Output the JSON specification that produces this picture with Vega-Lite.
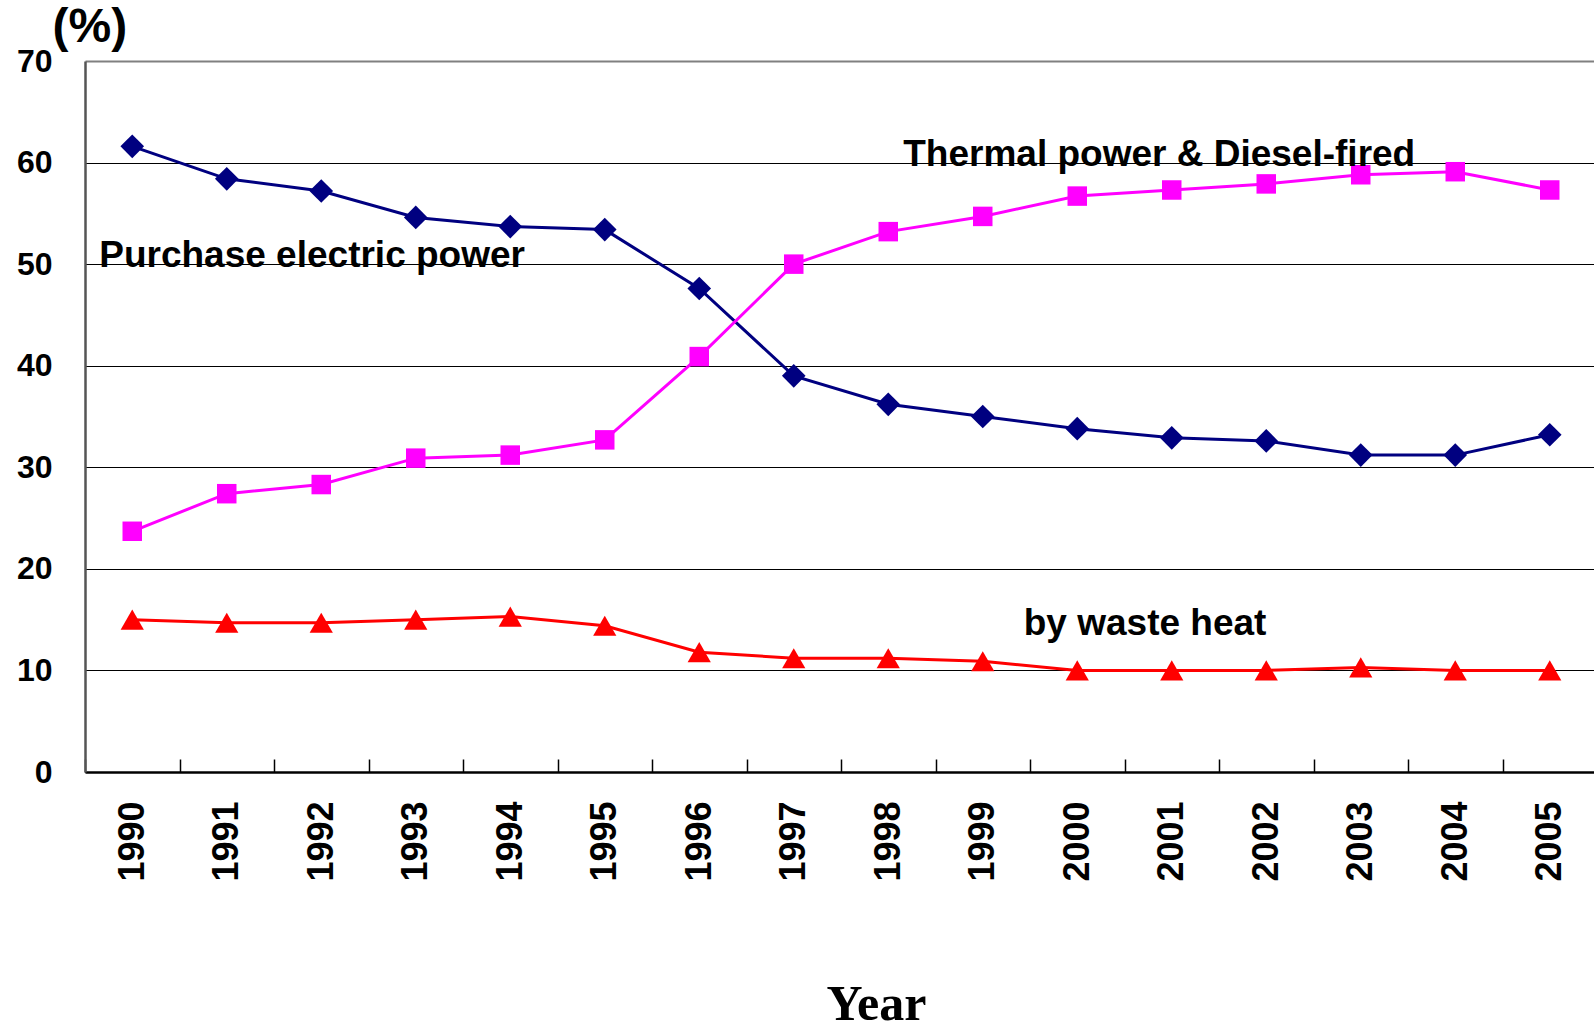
{
  "$schema": "https://vega.github.io/schema/vega-lite/v6.json",
  "width": 1512,
  "height": 711,
  "autosize": "none",
  "padding": {"left": 85, "top": 61, "right": 0, "bottom": 257},
  "background": "white",
  "config": {"view": {"stroke": null}, "font": "Liberation Sans"},
  "datasets": {
    "series": [
      {"year": "1990", "series": "Purchase electric power", "value": 61.6},
      {"year": "1991", "series": "Purchase electric power", "value": 58.4},
      {"year": "1992", "series": "Purchase electric power", "value": 57.2},
      {"year": "1993", "series": "Purchase electric power", "value": 54.6},
      {"year": "1994", "series": "Purchase electric power", "value": 53.7},
      {"year": "1995", "series": "Purchase electric power", "value": 53.4},
      {"year": "1996", "series": "Purchase electric power", "value": 47.6},
      {"year": "1997", "series": "Purchase electric power", "value": 39.0},
      {"year": "1998", "series": "Purchase electric power", "value": 36.2},
      {"year": "1999", "series": "Purchase electric power", "value": 35.0},
      {"year": "2000", "series": "Purchase electric power", "value": 33.8},
      {"year": "2001", "series": "Purchase electric power", "value": 32.9},
      {"year": "2002", "series": "Purchase electric power", "value": 32.6},
      {"year": "2003", "series": "Purchase electric power", "value": 31.2},
      {"year": "2004", "series": "Purchase electric power", "value": 31.2},
      {"year": "2005", "series": "Purchase electric power", "value": 33.2},
      {"year": "1990", "series": "Thermal power & Diesel-fired", "value": 23.7},
      {"year": "1991", "series": "Thermal power & Diesel-fired", "value": 27.4},
      {"year": "1992", "series": "Thermal power & Diesel-fired", "value": 28.3},
      {"year": "1993", "series": "Thermal power & Diesel-fired", "value": 30.9},
      {"year": "1994", "series": "Thermal power & Diesel-fired", "value": 31.2},
      {"year": "1995", "series": "Thermal power & Diesel-fired", "value": 32.7},
      {"year": "1996", "series": "Thermal power & Diesel-fired", "value": 40.9},
      {"year": "1997", "series": "Thermal power & Diesel-fired", "value": 50.0},
      {"year": "1998", "series": "Thermal power & Diesel-fired", "value": 53.2},
      {"year": "1999", "series": "Thermal power & Diesel-fired", "value": 54.7},
      {"year": "2000", "series": "Thermal power & Diesel-fired", "value": 56.7},
      {"year": "2001", "series": "Thermal power & Diesel-fired", "value": 57.3},
      {"year": "2002", "series": "Thermal power & Diesel-fired", "value": 57.9},
      {"year": "2003", "series": "Thermal power & Diesel-fired", "value": 58.8},
      {"year": "2004", "series": "Thermal power & Diesel-fired", "value": 59.1},
      {"year": "2005", "series": "Thermal power & Diesel-fired", "value": 57.3},
      {"year": "1990", "series": "by waste heat", "value": 15.0},
      {"year": "1991", "series": "by waste heat", "value": 14.7},
      {"year": "1992", "series": "by waste heat", "value": 14.7},
      {"year": "1993", "series": "by waste heat", "value": 15.0},
      {"year": "1994", "series": "by waste heat", "value": 15.3},
      {"year": "1995", "series": "by waste heat", "value": 14.4},
      {"year": "1996", "series": "by waste heat", "value": 11.8},
      {"year": "1997", "series": "by waste heat", "value": 11.2},
      {"year": "1998", "series": "by waste heat", "value": 11.2},
      {"year": "1999", "series": "by waste heat", "value": 10.9},
      {"year": "2000", "series": "by waste heat", "value": 10.0},
      {"year": "2001", "series": "by waste heat", "value": 10.0},
      {"year": "2002", "series": "by waste heat", "value": 10.0},
      {"year": "2003", "series": "by waste heat", "value": 10.3},
      {"year": "2004", "series": "by waste heat", "value": 10.0},
      {"year": "2005", "series": "by waste heat", "value": 10.0}
    ],
    "labels": [
      {"year": "1990", "value": 50.8, "label": "Purchase electric power"},
      {"year": "1998", "value": 60.7, "label": "Thermal power & Diesel-fired"},
      {"year": "1999", "value": 14.6, "label": "by waste heat"}
    ]
  },
  "encoding": {
    "x": {
      "field": "year", "type": "ordinal", "bandPosition": 0.5,
      "scale": {"type": "band", "paddingInner": 0, "paddingOuter": 0},
      "axis": {
        "title": "Year", "titleFont": "Liberation Serif", "titleFontSize": 50, "titleFontWeight": "bold",
        "titleX": 791, "titleY": 247, "titleAnchor": "middle", "titleAlign": "center", "titleBaseline": "alphabetic",
        "labelAngle": 270, "labelFontSize": 36, "labelFontWeight": "bold", "labelColor": "black",
        "labelPadding": 42, "tickBand": "extent", "tickSize": -13, "tickColor": "black", "tickWidth": 1.5,
        "domainColor": "black", "domainWidth": 2.5, "grid": false
      }
    },
    "y": {
      "field": "value", "type": "quantitative",
      "scale": {"domain": [0, 70], "nice": false, "zero": true},
      "axis": {
        "values": [0, 10, 20, 30, 40, 50, 60, 70],
        "title": "(%)", "titleAngle": 0, "titleFontSize": 48, "titleFontWeight": "bold",
        "titleX": -33, "titleY": -20, "titleAlign": "left", "titleBaseline": "alphabetic",
        "labelFontSize": 32, "labelFontWeight": "bold", "labelColor": "black", "labelPadding": 33,
        "ticks": false, "domainColor": "#555", "domainWidth": 2.5,
        "grid": true,
        "gridColor": {"condition": {"test": "datum.value === 70", "value": "#808080"}, "value": "black"},
        "gridWidth": {"condition": {"test": "datum.value === 70", "value": 2}, "value": 1}
      }
    }
  },
  "layer": [
    {
      "data": {"name": "series"},
      "mark": {"type": "line", "strokeWidth": 3},
      "encoding": {
        "color": {"field": "series", "type": "nominal", "legend": null,
          "scale": {"domain": ["Purchase electric power", "Thermal power & Diesel-fired", "by waste heat"], "range": ["#000080", "#FF00FF", "#FF0000"]}}
      }
    },
    {
      "data": {"name": "series"},
      "transform": [{"filter": "datum.series === 'Purchase electric power'"}],
      "mark": {"type": "point", "filled": true, "opacity": 1, "shape": "diamond", "size": 560, "color": "#000080"}
    },
    {
      "data": {"name": "series"},
      "transform": [{"filter": "datum.series === 'Thermal power & Diesel-fired'"}],
      "mark": {"type": "point", "filled": true, "opacity": 1, "shape": "square", "size": 380, "color": "#FF00FF"}
    },
    {
      "data": {"name": "series"},
      "transform": [{"filter": "datum.series === 'by waste heat'"}],
      "mark": {"type": "point", "filled": true, "opacity": 1, "shape": "triangle-up", "size": 540, "color": "#FF0000"}
    },
    {
      "data": {"name": "labels"},
      "transform": [{"filter": "datum.label === 'Purchase electric power'"}],
      "mark": {"type": "text", "align": "left", "baseline": "middle", "fontSize": 37, "fontWeight": "bold", "color": "black", "dx": -33},
      "encoding": {"text": {"field": "label"}}
    },
    {
      "data": {"name": "labels"},
      "transform": [{"filter": "datum.label === 'Thermal power & Diesel-fired'"}],
      "mark": {"type": "text", "align": "left", "baseline": "middle", "fontSize": 37, "fontWeight": "bold", "color": "black", "dx": 15},
      "encoding": {"text": {"field": "label"}}
    },
    {
      "data": {"name": "labels"},
      "transform": [{"filter": "datum.label === 'by waste heat'"}],
      "mark": {"type": "text", "align": "left", "baseline": "middle", "fontSize": 37, "fontWeight": "bold", "color": "black", "dx": 41},
      "encoding": {"text": {"field": "label"}}
    }
  ]
}
